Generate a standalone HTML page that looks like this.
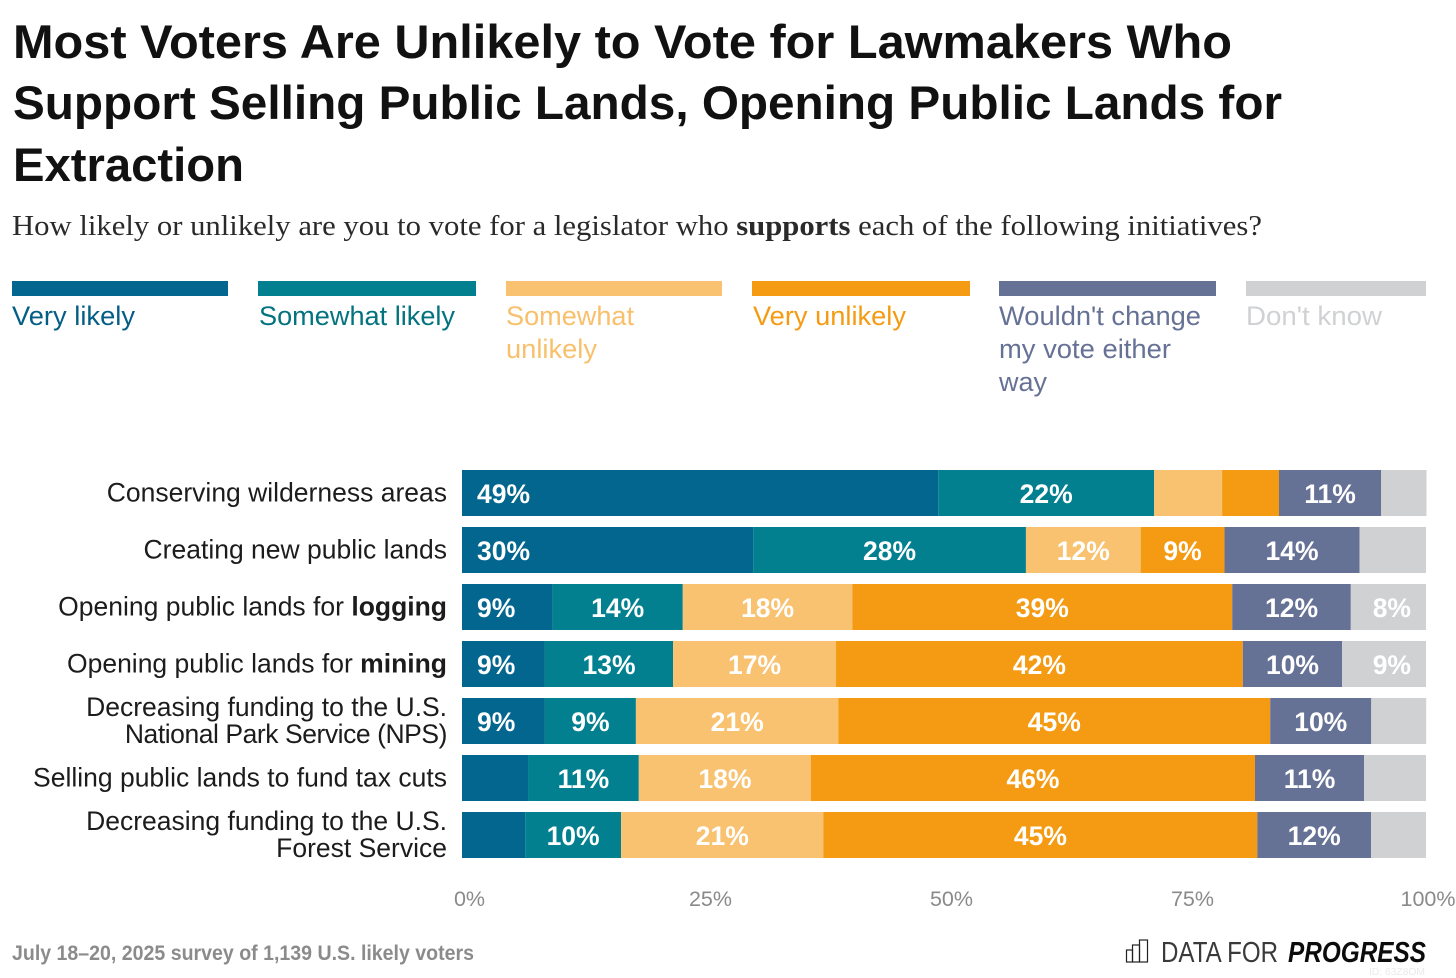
<!DOCTYPE html>
<html lang="en">
<head>
<meta charset="utf-8">
<title>Most Voters Are Unlikely to Vote for Lawmakers Who Support Selling Public Lands</title>
<style>
html,body{margin:0;padding:0;background:#fff;}
body{width:1456px;height:978px;overflow:hidden;}
svg{display:block;font-family:"Liberation Sans",sans-serif;}
.title{font-size:47px;font-weight:700;fill:#111;}
.legend{font-size:27px;}
.row{font-size:26.5px;fill:#1c1c1c;}
.val{font-size:26.5px;font-weight:700;fill:#fff;}
.tick{font-size:21.5px;fill:#8a8a8a;}
</style>
</head>
<body>
<svg id="chart" xmlns="http://www.w3.org/2000/svg" width="1456" height="978" viewBox="0 0 1456 978">
  <g>
    <text class="title" x="13" y="58" textLength="1219" lengthAdjust="spacingAndGlyphs">Most Voters Are Unlikely to Vote for Lawmakers Who</text>
    <text class="title" x="13" y="119" textLength="1269" lengthAdjust="spacingAndGlyphs">Support Selling Public Lands, Opening Public Lands for</text>
    <text class="title" x="13" y="181" textLength="231" lengthAdjust="spacingAndGlyphs">Extraction</text>
  </g>
  <text x="12" y="235" textLength="1250" lengthAdjust="spacingAndGlyphs" style="font-family:'Liberation Serif',serif;font-size:28px;fill:#2a2a2a;">How likely or unlikely are you to vote for a legislator who <tspan font-weight="700">supports</tspan> each of the following initiatives?</text>

  <g>
    <g>
      <rect x="12" y="281" width="216" height="15" fill="#03668f"/>
      <text class="legend" x="12" y="325" fill="#045e85" textLength="123" lengthAdjust="spacingAndGlyphs">Very likely</text>
    </g>
    <g>
      <rect x="258" y="281" width="218" height="15" fill="#02808f"/>
      <text class="legend" x="259" y="325" fill="#03737f" textLength="196" lengthAdjust="spacingAndGlyphs">Somewhat likely</text>
    </g>
    <g>
      <rect x="506" y="281" width="216" height="15" fill="#f8c270"/>
      <text class="legend" x="506" y="325" fill="#f8c06c" textLength="128" lengthAdjust="spacingAndGlyphs">Somewhat</text>
      <text class="legend" x="506" y="358" fill="#f8c06c" textLength="91" lengthAdjust="spacingAndGlyphs">unlikely</text>
    </g>
    <g>
      <rect x="752" y="281" width="218" height="15" fill="#f49b13"/>
      <text class="legend" x="753" y="325" fill="#f49b13" textLength="153" lengthAdjust="spacingAndGlyphs">Very unlikely</text>
    </g>
    <g>
      <rect x="999" y="281" width="217" height="15" fill="#667196"/>
      <text class="legend" x="999" y="325" fill="#667196" textLength="202" lengthAdjust="spacingAndGlyphs">Wouldn't change</text>
      <text class="legend" x="999" y="358" fill="#667196" textLength="172" lengthAdjust="spacingAndGlyphs">my vote either</text>
      <text class="legend" x="999" y="391" fill="#667196" textLength="48" lengthAdjust="spacingAndGlyphs">way</text>
    </g>
    <g>
      <rect x="1246" y="281" width="180" height="15" fill="#cfd1d3"/>
      <text class="legend" x="1246" y="325" fill="#cfd1d3" textLength="136" lengthAdjust="spacingAndGlyphs">Don't know</text>
    </g>
  </g>

  <g id="row-labels"></g>
  <g id="bars"></g>
  <g id="x-axis"></g>

  <text x="12" y="960" textLength="462" lengthAdjust="spacingAndGlyphs" style="font-size:21px;font-weight:700;fill:#8b8b8b;">July 18–20, 2025 survey of 1,139 U.S. likely voters</text>

  <g>
    <g fill="none" stroke="#222" stroke-width="1.2">
      <rect x="1126.5" y="950" width="6" height="12"/>
      <rect x="1132.5" y="945" width="7" height="17"/>
      <rect x="1139.5" y="940" width="8" height="22"/>
    </g>
    <text x="1161" y="962" textLength="117" lengthAdjust="spacingAndGlyphs" style="font-size:29px;fill:#3a3a3a;font-weight:400;">DATA FOR</text>
    <text x="1288" y="962" textLength="138" lengthAdjust="spacingAndGlyphs" style="font-size:29px;fill:#0c0c0c;font-weight:700;font-style:italic;">PROGRESS</text>
    <text x="1369" y="975" textLength="56" lengthAdjust="spacingAndGlyphs" style="font-size:10px;fill:#eaeaea;">ID: 63Z8OM</text>
  </g>
</svg>
<script>
// ---- chart data ----
const categoryLines = [
  ["Conserving wilderness areas"],
  ["Creating new public lands"],
  ["Opening public lands for logging"],
  ["Opening public lands for mining"],
  ["Decreasing funding to the U.S.", "National Park Service (NPS)"],
  ["Selling public lands to fund tax cuts"],
  ["Decreasing funding to the U.S.", "Forest Service"]
];
const categoryBoldWords = ["", "", "logging", "mining", "", "", ""];
const seriesNames = ["Very likely", "Somewhat likely", "Somewhat unlikely", "Very unlikely", "Wouldn't change my vote either way", "Don't know"];
const veryLikely      = [49.4, 30.2, 9.4, 8.6, 8.6, 6.85, 6.55];
const somewhatLikely  = [22.4, 28.3, 13.5, 13.3, 9.44, 11.49, 9.95];
const somewhatUnlikely= [7.05, 11.9, 17.6, 16.9, 21.0, 17.86, 21.0];
const veryUnlikely    = [5.9, 8.7, 39.4, 42.2, 44.8, 46.06, 45.0];
const wouldntChange   = [10.6, 14.0, 12.3, 10.3, 10.48, 11.31, 11.8];
const dontKnow        = [4.7, 6.9, 7.8, 8.7, 5.7, 6.43, 5.7];
const seriesColors = ["#03668f", "#02808f", "#f8c270", "#f49b13", "#667196", "#cfd1d3"];
const axisTicks = [0, 25, 50, 75, 100];
const tickLabels = ["0%", "25%", "50%", "75%", "100%"];

// ---- axis functions ----
const SVG_NS = "http://www.w3.org/2000/svg";
const allSeries = [veryLikely, somewhatLikely, somewhatUnlikely, veryUnlikely, wouldntChange, dontKnow];
const plotLeft = 462, plotRight = 1426, rowTop = 470, rowStep = 57, barHeight = 46, labelMinValue = 7.5;
function xScale(v) { return plotLeft + (plotRight - plotLeft) * v / 100; }
function yScale(i) { return rowTop + rowStep * i; }

const labelsGroup = document.getElementById("row-labels");
const barsGroup = document.getElementById("bars");
const axisGroup = document.getElementById("x-axis");

categoryLines.forEach(function (lines, i) {
  const midY = yScale(i) + barHeight / 2;
  lines.forEach(function (line, k) {
    const t = document.createElementNS(SVG_NS, "text");
    
    
    t.setAttribute("class", "row");
    t.setAttribute("x", 447);
    t.setAttribute("text-anchor", "end");
    t.setAttribute("y", lines.length === 1 ? midY + 8.5 : midY - 5 + k * 27);
    if (line.indexOf("National") === 0) t.setAttribute("letter-spacing", "-0.45");
    const bold = categoryBoldWords[i];
    if (bold && line.endsWith(bold)) {
      t.appendChild(document.createTextNode(line.slice(0, line.length - bold.length)));
      const b = document.createElementNS(SVG_NS, "tspan");
      b.setAttribute("font-weight", "700");
      b.textContent = bold;
      t.appendChild(b);
    } else {
      t.textContent = line;
    }
    labelsGroup.appendChild(t);
  });

  let cum = 0;
  allSeries.forEach(function (series, s) {
    const value = series[i];
    const x0 = xScale(cum), x1 = xScale(cum + value);
    const r = document.createElementNS(SVG_NS, "rect");
    
    
    r.setAttribute("x", x0);
    r.setAttribute("y", yScale(i));
    r.setAttribute("width", x1 - x0);
    r.setAttribute("height", barHeight);
    r.setAttribute("fill", seriesColors[s]);
    barsGroup.appendChild(r);
    cum += value;
  });

  cum = 0;
  allSeries.forEach(function (series, s) {
    const value = series[i];
    const x0 = xScale(cum), x1 = xScale(cum + value);
    cum += value;
    if (value < labelMinValue) return;
    const t = document.createElementNS(SVG_NS, "text");
    
    
    t.setAttribute("class", "val");
    t.setAttribute("y", yScale(i) + 33);
    if (s === 0) {
      t.setAttribute("x", x0 + 15);
      t.setAttribute("text-anchor", "start");
    } else if (s === allSeries.length - 1) {
      t.setAttribute("x", x1 - 15);
      t.setAttribute("text-anchor", "end");
    } else {
      t.setAttribute("x", (x0 + x1) / 2);
      t.setAttribute("text-anchor", "middle");
    }
    t.textContent = Math.round(value) + "%";
    barsGroup.appendChild(t);
  });
});

axisTicks.forEach(function (tick, i) {
  const t = document.createElementNS(SVG_NS, "text");
  
  
  t.setAttribute("class", "tick");
  t.setAttribute("text-anchor", "middle");
  t.setAttribute("x", Math.min(xScale(tick) + 7.5, 1428));
  t.setAttribute("y", 906);
  t.textContent = tickLabels[i];
  axisGroup.appendChild(t);
});
</script>
</body>
</html>
